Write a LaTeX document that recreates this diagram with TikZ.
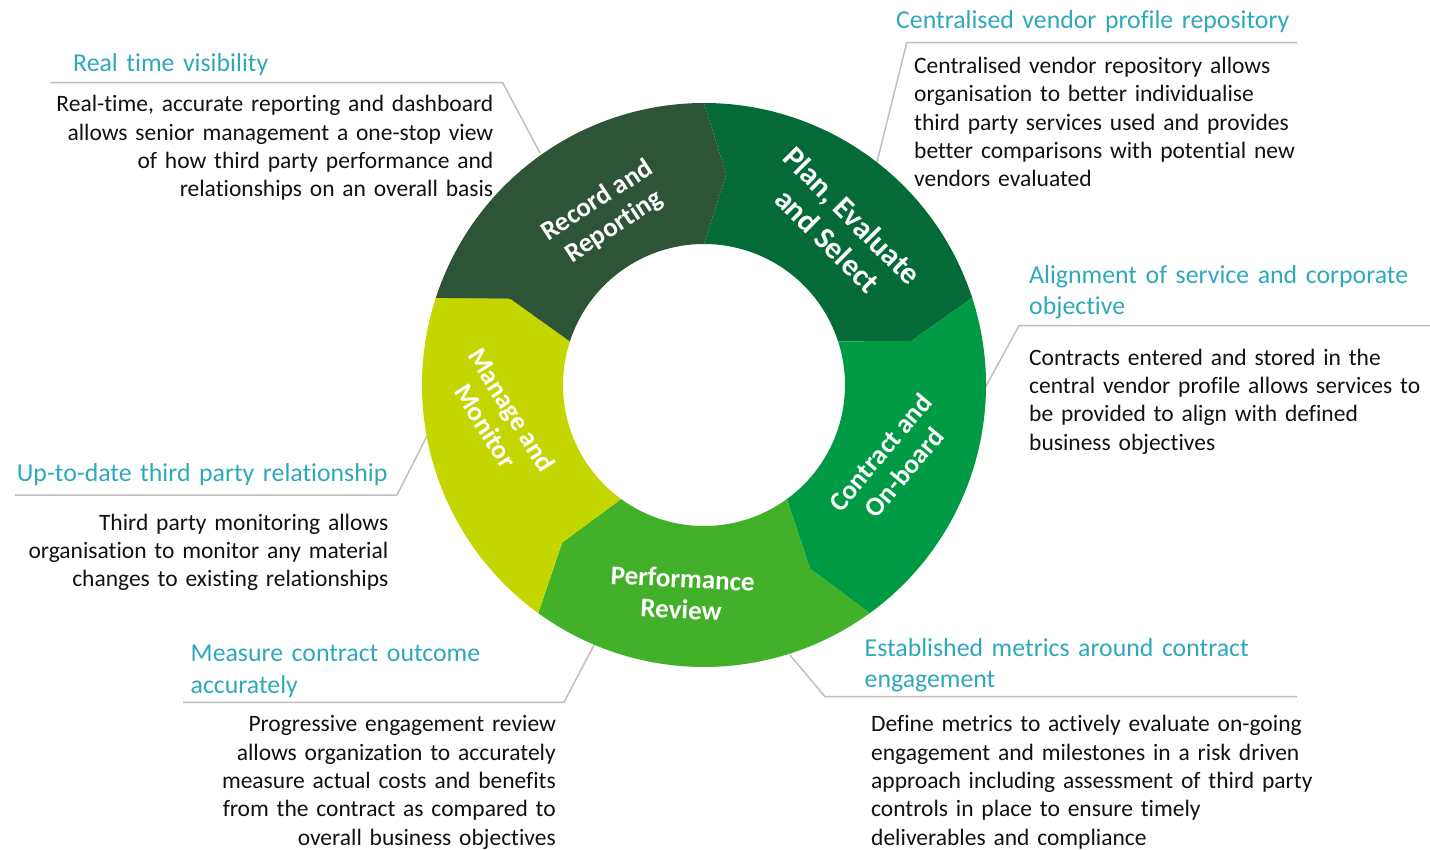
\documentclass[tikz,border=0pt]{standalone}
\usepackage{fontspec}
\setmainfont[Ligatures=NoCommon]{Carlito}
\definecolor{cRec}{HTML}{2D5437}
\definecolor{cPlan}{HTML}{046A38}
\definecolor{cCon}{HTML}{009A44}
\definecolor{cPerf}{HTML}{43B02A}
\definecolor{cMan}{HTML}{C4D600}
\definecolor{ttlc}{HTML}{2EA9BA}
\definecolor{leadc}{HTML}{BFBFBF}
\definecolor{bodyc}{HTML}{111111}
\begin{document}
\begin{tikzpicture}[x=1pt,y=1pt,
  ttl/.style={font=\fontsize{25.8}{31.5}\selectfont, text=ttlc, inner sep=0pt, align=left, text width=480pt, anchor=base west},
  bodyl/.style={font=\fontsize{23.5}{28.4}\selectfont, text=bodyc, inner sep=0pt, align=left, text width=480pt, anchor=base west},
  bodyr/.style={font=\fontsize{23.5}{28.4}\selectfont, text=bodyc, inner sep=0pt, align=right, text width=480pt, anchor=base east},
  lead/.style={draw=leadc, line width=1.5pt},
  seglab/.style={text=white, font=\bfseries\fontsize{27}{31}\selectfont, align=center, inner sep=0pt},
  seglabbig/.style={text=white, font=\bfseries\fontsize{31}{35}\selectfont, align=center, inner sep=0pt}]
\useasboundingbox (0,0) rectangle (1430,-850);

% leader lines
\coordinate (E1) at (540,-153);  \coordinate (C1) at (502.7,-82.7); \coordinate (P1) at (50,-82.7);
\coordinate (E2) at (876,-166);  \coordinate (C2) at (906.7,-42.7); \coordinate (P2) at (1297,-42.7);
\coordinate (E3) at (985,-388);  \coordinate (C3) at (1019,-325.7); \coordinate (P3) at (1430,-325.7);
\coordinate (E4) at (427,-436);  \coordinate (C4) at (397,-495);    \coordinate (P4) at (15,-495);
\coordinate (E5) at (594,-645);  \coordinate (C5) at (564,-702.3);  \coordinate (P5) at (183,-702.3);
\coordinate (E6) at (790,-655);  \coordinate (C6) at (825,-696.7);  \coordinate (P6) at (1297,-696.7);
\draw[lead] (E1) -- (C1) -- (P1);
\draw[lead] (E2) -- (C2) -- (P2);
\draw[lead] (E3) -- (C3) -- (P3);
\draw[lead] (E4) -- (C4) -- (P4);
\draw[lead] (E5) -- (C5) -- (P5);
\draw[lead] (E6) -- (C6) -- (P6);

% ring
\begin{scope}[shift={(704,-385)}]
\foreach \a/\b/\c [evaluate=\a as \at using \a-6, evaluate=\b as \bt using \b-6] in
  {90/18/cPlan, 18/-54/cCon, -54/-126/cPerf, -126/-198/cMan, 162/90/cRec} {
  \fill[\c] (\a:282) arc[start angle=\a, end angle=\b, radius=282]
    -- (\bt:212) -- (\b:141) arc[start angle=\b, end angle=\a, radius=141]
    -- (\at:212) -- cycle;
}
\end{scope}

% ring labels
\node[seglab, rotate=33]  (l1) at (606,-214) {Record and\\Reporting};
\node[seglabbig, rotate=-45] (l2) at (840,-228) {Plan, Evaluate\\and Select};
\node[seglab, rotate=50]  (l3) at (892,-462) {Contract and\\On-board};
\node[seglab, rotate=-3]  (l4) at (682,-594) {Performance\\Review};
\node[seglab, rotate=-58] (l5) at (499,-418) {Manage and\\Monitor};

% annotations
\node[ttl] (t1) at (73,-71.7) {Real time visibility};
\node[bodyr] (b1) at (493.5,-111.7) {Real-time, accurate reporting and dashboard\\allows senior management a one-stop view\\of how third party performance and\\relationships on an overall basis};

\node[ttl] (t2) at (896,-28.5) {Centralised vendor profile repository};
\node[bodyl] (b2) at (914,-73.3) {Centralised vendor repository allows\\organisation to better individualise\\third party services used and provides\\better comparisons with potential new\\vendors evaluated};

\node[ttl] (t3) at (1029,-283.5) {Alignment of service and corporate\\objective};
\node[bodyl] (b3) at (1029,-365) {Contracts entered and stored in the\\central vendor profile allows services to\\be provided to align with defined\\business objectives};

\node[ttl] (t4) at (16.7,-481.7) {Up-to-date third party relationship};
\node[bodyr] (b4) at (388.5,-530) {Third party monitoring allows\\organisation to monitor any material\\changes to existing relationships};

\node[ttl] (t5) at (190.5,-661.7) {Measure contract outcome\\accurately};
\node[bodyr] (b5) at (556,-731.7) {Progressive engagement review\\allows organization to accurately\\measure actual costs and benefits\\from the contract as compared to\\overall business objectives};

\node[ttl] (t6) at (864.5,-656) {Established metrics around contract\\engagement};
\node[bodyl] (b6) at (871,-731.7) {Define metrics to actively evaluate on-going\\engagement and milestones in a risk driven\\approach including assessment of third party\\controls in place to ensure timely\\deliverables and compliance};
\end{tikzpicture}
\end{document}
